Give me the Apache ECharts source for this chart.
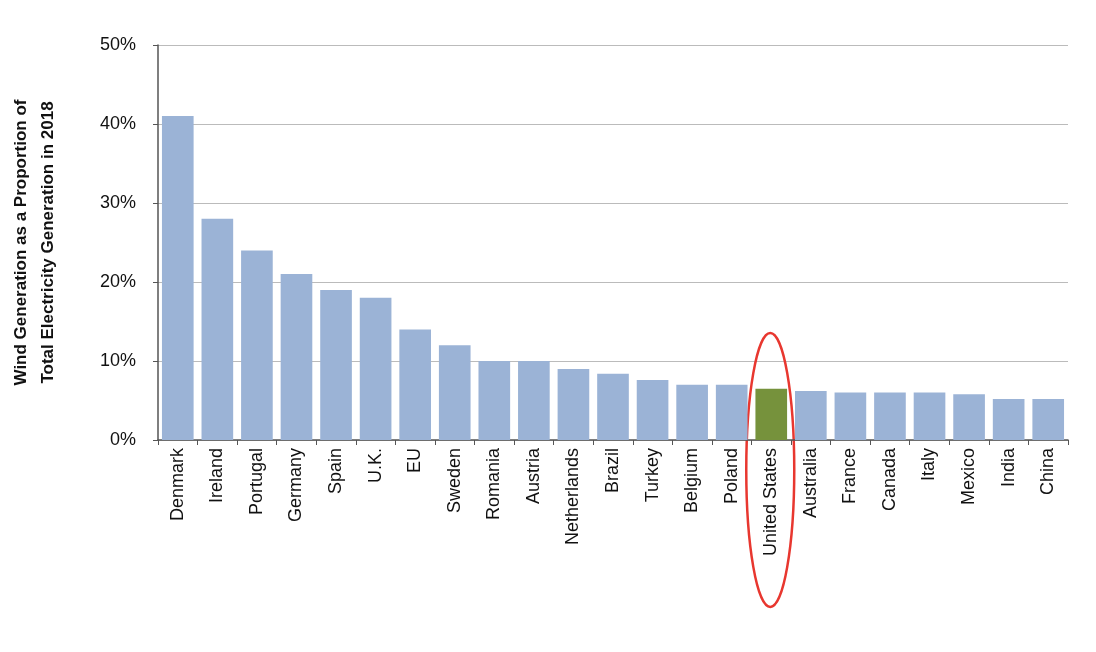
<!DOCTYPE html>
<html><head><meta charset="utf-8">
<script src="https://cdn.jsdelivr.net/npm/echarts@6/dist/echarts.min.js"></script>
<style>html,body{margin:0;background:#fff}#c{width:1096px;height:652px}</style>
</head><body><div id="c"></div>
<script>
const categories=["Denmark","Ireland","Portugal","Germany","Spain","U.K.","EU","Sweden","Romania","Austria","Netherlands","Brazil","Turkey","Belgium","Poland","United States","Australia","France","Canada","Italy","Mexico","India","China"];
const values=[41,28,24,21,19,18,14,12,10,10,9,8.4,7.6,7,7,6.5,6.2,6,6,6,5.8,5.2,5.2];
const highlight="United States";
const chart=echarts.init(document.getElementById('c'));
chart.setOption({
  animation:false,
  grid:{left:145,right:28,top:45,bottom:212},
  xAxis:{type:'category',data:categories,
    axisLine:{lineStyle:{color:'#555',width:1.5}},axisTick:{show:true,lineStyle:{color:'#555'}},
    axisLabel:{rotate:90,interval:0,fontSize:18,color:'#111',fontFamily:'Liberation Sans, Arial',margin:8}},
  yAxis:{type:'value',min:0,max:50,interval:10,
    name:'Wind Generation as a Proportion of\nTotal Electricity Generation in 2018',nameLocation:'middle',nameGap:96,
    nameTextStyle:{fontSize:17,fontWeight:'bold',color:'#111',lineHeight:27,fontFamily:'Liberation Sans, Arial'},
    axisLine:{show:true,lineStyle:{color:'#555',width:1.5}},axisTick:{show:true,lineStyle:{color:'#555'}},
    splitLine:{lineStyle:{color:'#bbb'}},
    axisLabel:{formatter:'{value}%',fontSize:18,color:'#111',fontFamily:'Liberation Sans, Arial',margin:22}},
  series:[{type:'bar',barCategoryGap:'20%',
    data:values.map((v,i)=>({value:v,itemStyle:{color:categories[i]===highlight?'#76923c':'#9bb3d6'}}))}]
});
const c=chart.convertToPixel({xAxisIndex:0,yAxisIndex:0},[highlight,0]);
chart.setOption({graphic:[{type:'ellipse',shape:{cx:c[0]-1,cy:c[1]+30,rx:24,ry:137},style:{fill:'none',stroke:'#e8372f',lineWidth:2.5}}]});
</script></body></html>
